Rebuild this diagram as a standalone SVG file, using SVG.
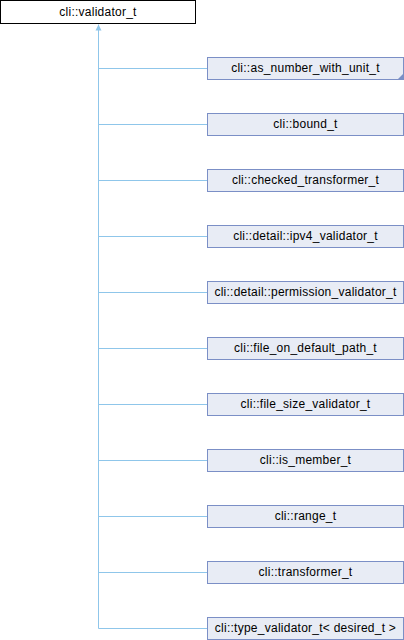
<svg xmlns="http://www.w3.org/2000/svg" width="404" height="640" viewBox="0 0 404 640">
<defs>
<style>
.base{fill:#ffffff;stroke:#000000;stroke-width:1}
.cls{fill:#e8ecf5;stroke:#7b8fc6;stroke-width:1}
text{font-family:"Liberation Sans",Arial,sans-serif;font-size:12px;letter-spacing:0.25px;fill:#000;text-anchor:middle}
.edge{fill:none;stroke:#8fc6ea;stroke-width:1}
</style>
<marker id="arr" viewBox="0 0 10 10" refX="10" refY="5" markerWidth="6" markerHeight="8" orient="auto" markerUnits="userSpaceOnUse">
<path d="M0,0 L10,5 L0,10 z" fill="#8fc6ea"/>
</marker>
</defs>
<rect width="404" height="640" fill="#ffffff"/>
<g id="connectors">
<path class="edge" d="M98.5,628.5 V24.5" marker-end="url(#arr)"/>
<path class="edge" d="M98.5,68.5 H207.5"/>
<path class="edge" d="M98.5,124.5 H207.5"/>
<path class="edge" d="M98.5,180.5 H207.5"/>
<path class="edge" d="M98.5,236.5 H207.5"/>
<path class="edge" d="M98.5,292.5 H207.5"/>
<path class="edge" d="M98.5,348.5 H207.5"/>
<path class="edge" d="M98.5,404.5 H207.5"/>
<path class="edge" d="M98.5,460.5 H207.5"/>
<path class="edge" d="M98.5,516.5 H207.5"/>
<path class="edge" d="M98.5,572.5 H207.5"/>
<path class="edge" d="M98.5,628.5 H207.5"/>
</g>
<g id="validator_t"><rect class="base" x="0.5" y="0.5" width="195" height="23"/><text x="98" y="16">cli::validator_t</text></g>
<g id="as_number_with_unit_t"><rect class="cls" x="207.5" y="57.5" width="196" height="22"/><path d="M403,74 L403,79 L398,79 z" fill="#7b8fc6"/><text x="305.5" y="71.5">cli::as_number_with_unit_t</text></g>
<g id="bound_t"><rect class="cls" x="207.5" y="113.5" width="196" height="22"/><text x="305.5" y="127.5">cli::bound_t</text></g>
<g id="checked_transformer_t"><rect class="cls" x="207.5" y="169.5" width="196" height="22"/><text x="305.5" y="183.5">cli::checked_transformer_t</text></g>
<g id="ipv4_validator_t"><rect class="cls" x="207.5" y="225.5" width="196" height="22"/><text x="305.5" y="239.5">cli::detail::ipv4_validator_t</text></g>
<g id="permission_validator_t"><rect class="cls" x="207.5" y="281.5" width="196" height="22"/><text x="305.5" y="295.5">cli::detail::permission_validator_t</text></g>
<g id="file_on_default_path_t"><rect class="cls" x="207.5" y="337.5" width="196" height="22"/><text x="305.5" y="351.5">cli::file_on_default_path_t</text></g>
<g id="file_size_validator_t"><rect class="cls" x="207.5" y="393.5" width="196" height="22"/><text x="305.5" y="407.5">cli::file_size_validator_t</text></g>
<g id="is_member_t"><rect class="cls" x="207.5" y="449.5" width="196" height="22"/><text x="305.5" y="463.5">cli::is_member_t</text></g>
<g id="range_t"><rect class="cls" x="207.5" y="505.5" width="196" height="22"/><text x="305.5" y="519.5">cli::range_t</text></g>
<g id="transformer_t"><rect class="cls" x="207.5" y="561.5" width="196" height="22"/><text x="305.5" y="575.5">cli::transformer_t</text></g>
<g id="type_validator_t"><rect class="cls" x="207.5" y="617.5" width="196" height="22"/><text x="305.5" y="631.5">cli::type_validator_t&lt; desired_t &gt;</text></g>
</svg>
